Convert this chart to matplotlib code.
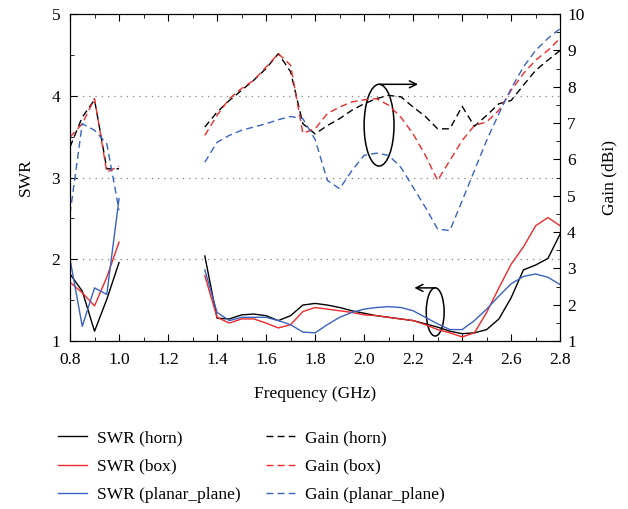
import numpy as np
import matplotlib.pyplot as plt
from matplotlib.patches import Ellipse
from matplotlib.ticker import MultipleLocator

plt.rcParams['font.family'] = ['Liberation Serif', 'DejaVu Serif']
plt.rcParams['font.size'] = 12.5

# frequency points (GHz); nan point breaks the line between the two bands
freq_lo = [0.8, 0.85, 0.9, 0.95, 1.0]
freq_hi = [1.35, 1.4, 1.45, 1.5, 1.55, 1.6, 1.65, 1.7, 1.75, 1.8,
           1.85, 1.9, 1.95, 2.0, 2.05, 2.1, 2.15, 2.2, 2.25, 2.3,
           2.35, 2.4, 2.45, 2.5, 2.55, 2.6, 2.65, 2.7, 2.75, 2.8]

# SWR
swr_horn_lo = [1.82, 1.61, 1.12, 1.51, 1.96]
swr_horn_hi = [2.04, 1.28, 1.27, 1.32, 1.33, 1.31, 1.25, 1.31, 1.44, 1.46,
               1.44, 1.41, 1.37, 1.34, 1.31, 1.29, 1.27, 1.25, 1.21, 1.17,
               1.12, 1.09, 1.10, 1.14, 1.27, 1.53, 1.87, 1.93, 2.01, 2.31]
swr_box_lo = [1.72, 1.59, 1.43, 1.78, 2.21]
swr_box_hi = [1.80, 1.29, 1.22, 1.27, 1.27, 1.22, 1.16, 1.20, 1.36, 1.41,
              1.39, 1.37, 1.35, 1.32, 1.31, 1.29, 1.27, 1.25, 1.20, 1.14,
              1.10, 1.05, 1.10, 1.35, 1.65, 1.94, 2.15, 2.41, 2.51, 2.41]
swr_planar_lo = [2.0, 1.18, 1.65, 1.57, 2.74]
swr_planar_hi = [1.87, 1.35, 1.25, 1.29, 1.29, 1.29, 1.25, 1.20, 1.11, 1.10,
                 1.20, 1.29, 1.35, 1.39, 1.41, 1.42, 1.41, 1.37, 1.29, 1.21,
                 1.14, 1.14, 1.25, 1.39, 1.55, 1.70, 1.79, 1.82, 1.78, 1.69]

# Gain (dBi)
gain_horn_lo = [6.34, 7.16, 7.64, 5.74, 5.74]
gain_horn_hi = [6.89, 7.30, 7.62, 7.90, 8.18, 8.50, 8.91, 8.41, 6.98, 6.70,
                6.93, 7.12, 7.35, 7.53, 7.67, 7.76, 7.72, 7.44, 7.18, 6.84,
                6.84, 7.46, 6.91, 7.21, 7.53, 7.62, 8.04, 8.45, 8.73, 9.00]
gain_box_lo = [6.61, 6.98, 7.67, 5.65, 5.81]
gain_box_hi = [6.66, 7.21, 7.67, 7.95, 8.18, 8.54, 8.91, 8.59, 6.72, 6.84,
               7.26, 7.44, 7.58, 7.64, 7.67, 7.49, 7.16, 6.70, 6.11, 5.42,
               5.97, 6.52, 6.93, 7.03, 7.35, 7.90, 8.36, 8.73, 9.00, 9.33]
gain_planar_lo = [4.5, 6.98, 6.80, 6.43, 4.6]
gain_planar_hi = [5.92, 6.47, 6.66, 6.80, 6.89, 6.98, 7.09, 7.18, 7.12, 6.55,
                  5.42, 5.19, 5.69, 6.11, 6.17, 6.11, 5.78, 5.23, 4.68, 4.08,
                  4.04, 4.86, 5.69, 6.52, 7.26, 7.95, 8.54, 9.00, 9.33, 9.60]


def join(lo, hi):
    return np.array(list(lo) + [np.nan] + list(hi), dtype=float)


freq = join(freq_lo, freq_hi)
freq[len(freq_lo)] = 1.1

black = 'black'
red = '#ee2a2a'
blue = '#3a62c0'
dash = (0, (5, 3))

fig = plt.figure(figsize=(6.28, 5.09), dpi=100)
ax = fig.add_axes([0.1115, 0.330, 0.7805, 0.6425])
ax2 = ax.twinx()

l1, = ax.plot(freq, join(swr_horn_lo, swr_horn_hi), color=black, lw=1.0, label='SWR (horn)')
l2, = ax.plot(freq, join(swr_box_lo, swr_box_hi), color=red, lw=1.0, label='SWR (box)')
l3, = ax.plot(freq, join(swr_planar_lo, swr_planar_hi), color=blue, lw=1.0, label='SWR (planar_plane)')
l4, = ax2.plot(freq, join(gain_horn_lo, gain_horn_hi), color=black, lw=1.0, ls=dash, label='Gain (horn)')
l5, = ax2.plot(freq, join(gain_box_lo, gain_box_hi), color=red, lw=1.0, ls=dash, label='Gain (box)')
l6, = ax2.plot(freq, join(gain_planar_lo, gain_planar_hi), color=blue, lw=1.0, ls=dash, label='Gain (planar_plane)')

ax.set_xlim(0.8, 2.8)
ax.set_ylim(1, 5)
ax2.set_ylim(1, 10)

ax.xaxis.set_major_locator(MultipleLocator(0.2))
ax.xaxis.set_minor_locator(MultipleLocator(0.1))
ax.yaxis.set_major_locator(MultipleLocator(1))
ax.yaxis.set_minor_locator(MultipleLocator(0.5))
ax2.yaxis.set_major_locator(MultipleLocator(1))
ax2.yaxis.set_minor_locator(MultipleLocator(0.5))
ax.xaxis.set_major_formatter(plt.FuncFormatter(lambda v, p: f'{v:.1f}'))

ax.tick_params(which='both', direction='in', top=True, right=False)
ax.tick_params(which='major', length=5)
ax.tick_params(which='minor', length=3)
ax.tick_params(axis='x', which='major', pad=8)
ax.tick_params(axis='y', which='major', pad=7)
ax2.tick_params(which='both', direction='in')
ax2.tick_params(which='major', length=5, pad=5)
ax2.tick_params(which='minor', length=3)

ax.grid(axis='y', which='major', linestyle=(0, (1, 4)), color='gray', lw=0.9)

ax.set_xlabel('Frequency (GHz)', labelpad=13)
ax.set_ylabel('SWR', labelpad=13)
ax2.set_ylabel('Gain (dBi)', labelpad=12)

# annotation ellipses and arrows (in SWR axis coordinates)
ax.add_patch(Ellipse((2.061, 3.64), 0.122, 1.0, fill=False, color='black', lw=1.1))
ax.annotate('', xy=(2.22, 4.14), xytext=(2.061, 4.14),
            arrowprops=dict(arrowstyle='->', color='black', lw=1.1, shrinkA=0, shrinkB=0))
ax.add_patch(Ellipse((2.29, 1.356), 0.073, 0.59, fill=False, color='black', lw=1.1))
ax.annotate('', xy=(2.205, 1.65), xytext=(2.29, 1.65),
            arrowprops=dict(arrowstyle='->', color='black', lw=1.1, shrinkA=0, shrinkB=0))

fig.legend(handles=[l1, l2, l3, l4, l5, l6], ncol=2, frameon=False,
           loc='upper left', bbox_to_anchor=(0.0925, 0.155),
           handlelength=1.65, handletextpad=0.6, columnspacing=1.45,
           labelspacing=0.71, borderaxespad=0, borderpad=0)

fig.savefig('out.png', dpi=100)
